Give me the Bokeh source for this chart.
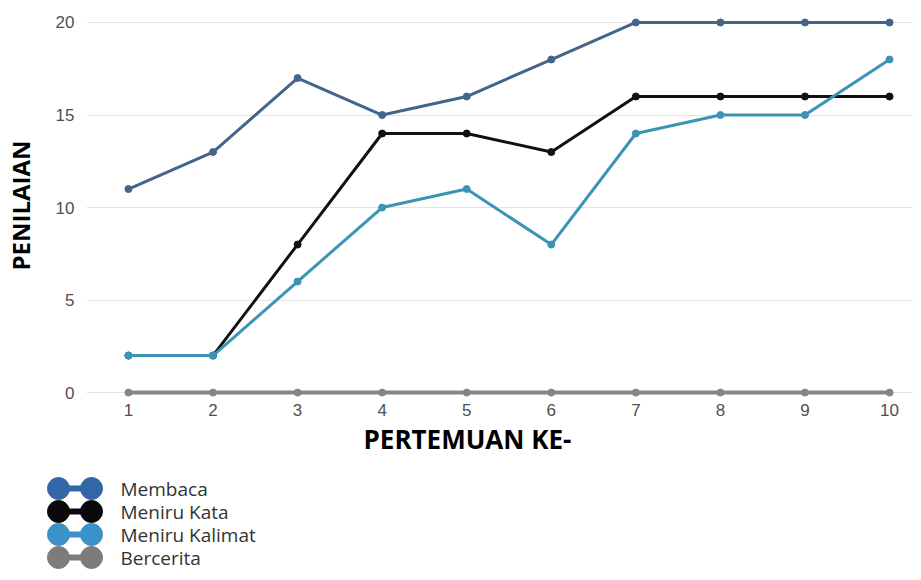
from bokeh.plotting import figure
from bokeh.layouts import column
from bokeh.models import Range1d, FixedTicker, Title, ColumnDataSource
from bokeh.core.properties import value
from bokeh.embed import file_html
from bokeh.resources import INLINE

# ---- data ----
pertemuan = [1, 2, 3, 4, 5, 6, 7, 8, 9, 10]
membaca = [11, 13, 17, 15, 16, 18, 20, 20, 20, 20]
meniru_kata = [2, 2, 8, 14, 14, 13, 16, 16, 16, 16]
meniru_kalimat = [2, 2, 6, 10, 11, 8, 14, 15, 15, 18]
bercerita = [0, 0, 0, 0, 0, 0, 0, 0, 0, 0]
series_names = ["Membaca", "Meniru Kata", "Meniru Kalimat", "Bercerita"]
y_ticks = [0, 5, 10, 15, 20]

# ---- styles ----
line_colors = {"Membaca": "#43658a", "Meniru Kata": "#111111",
               "Meniru Kalimat": "#3b93b5", "Bercerita": "#858585"}
legend_colors = {"Membaca": "#3366a6", "Meniru Kata": "#0a0a0a",
                 "Meniru Kalimat": "#3a92c8", "Bercerita": "#7c7c7c"}
line_widths = {"Membaca": 3, "Meniru Kata": 3, "Meniru Kalimat": 3, "Bercerita": 4}

W = 913
LEFT = 85
p = figure(width=W, height=458, x_range=Range1d(0.504, 10.283), y_range=Range1d(-0.32, 20.54),
           toolbar_location=None, output_backend="svg",
           min_border_left=LEFT, min_border_top=12, min_border_right=0, min_border_bottom=60)
p.frame_align = False
p.outline_line_color = None
p.xgrid.visible = False
p.ygrid.grid_line_color = "#e4e4e4"
p.ygrid.grid_line_width = 1
p.ygrid.ticker = FixedTicker(ticks=y_ticks)

for ax in (p.xaxis[0], p.yaxis[0]):
    ax.axis_line_color = None
    ax.major_tick_line_color = None
    ax.minor_tick_line_color = None
    ax.major_tick_out = 0
    ax.major_tick_in = 0
    ax.major_label_text_font = "Liberation Sans"
    ax.major_label_text_font_size = "17px"
    ax.major_label_text_color = "#505050"

p.xaxis.ticker = FixedTicker(ticks=pertemuan)
p.yaxis.ticker = FixedTicker(ticks=y_ticks)
p.yaxis.major_label_standoff = 12
p.xaxis.major_label_standoff = 5
p.yaxis.axis_label = "PENILAIAN"
p.yaxis.axis_label_text_font = "Open Sans"
p.yaxis.axis_label_text_font_style = "bold"
p.yaxis.axis_label_text_font_size = "24px"
p.yaxis.axis_label_text_color = "#000000"
p.yaxis.axis_label_standoff = 16

p.add_layout(Title(text="PERTEMUAN KE-", align="left", offset=277, standoff=0,
                   text_font="Open Sans", text_font_style="bold",
                   text_font_size="26px", text_color="#000000"), "below")

data = {"Membaca": membaca, "Meniru Kata": meniru_kata,
        "Meniru Kalimat": meniru_kalimat, "Bercerita": bercerita}
for name in ["Bercerita", "Membaca", "Meniru Kata", "Meniru Kalimat"]:
    src = ColumnDataSource(dict(x=pertemuan, y=data[name]))
    p.line("x", "y", source=src, line_color=line_colors[name], line_width=line_widths[name])
    p.scatter("x", "y", source=src, size=7, fill_color=line_colors[name],
              line_color=line_colors[name])

# ---- legend (drawn in its own panel, pixel coordinates) ----
LH = 114
lg = figure(width=W, height=LH, x_range=Range1d(0, W), y_range=Range1d(LH, 0),
            toolbar_location=None, output_backend="svg", min_border=0)
lg.frame_align = False
lg.axis.visible = False
lg.grid.visible = False
lg.outline_line_color = None
row_top, row_gap = 30, 23
rows_y = [row_top + i * row_gap for i in range(len(series_names))]
cols = [legend_colors[n] for n in series_names]
n = len(series_names)
lsrc = ColumnDataSource(dict(y=rows_y, c=cols, name=series_names,
                             x0=[58] * n, x1=[91] * n, xt=[120] * n))
lg.segment(x0="x0", y0="y", x1="x1", y1="y", source=lsrc, line_color="c", line_width=6)
lg.scatter(x="x0", y="y", source=lsrc, size=22, fill_color="c", line_color="c")
lg.scatter(x="x1", y="y", source=lsrc, size=22, fill_color="c", line_color="c")
lg.text(x="xt", y="y", text="name", source=lsrc, text_baseline="middle",
        text_font=value("Open Sans"), text_font_size="19px", text_color="#333333")

layout = column(p, lg, spacing=0)
open("out.html", "w").write(file_html(layout, INLINE))
